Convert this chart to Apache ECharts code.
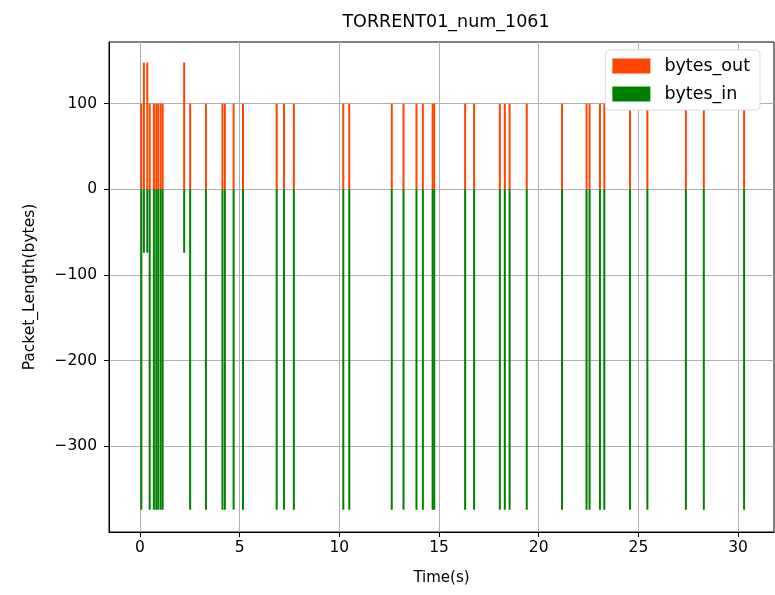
<!DOCTYPE html>
<html>
<head>
<meta charset="utf-8">
<script src="https://cdn.jsdelivr.net/npm/echarts@6/dist/echarts.min.js"></script>
<style>
  html, body { margin: 0; padding: 0; background: #fff; }
  #chart { width: 775px; height: 595px; }
</style>
</head>
<body>
<div id="chart"></div>
<script>
// packet times (s)
const times = [0.07, 0.20, 0.37, 0.49, 0.70, 0.82, 0.92, 1.04, 1.14, 2.22, 2.52, 3.31,
  4.14, 4.26, 4.70, 5.17, 6.86, 7.23, 7.72, 10.20, 10.50, 12.63, 13.22, 13.87, 14.19,
  14.68, 14.76, 16.31, 16.76, 18.05, 18.30, 18.54, 19.40, 21.17, 22.40, 22.55, 23.07,
  23.29, 24.58, 25.45, 27.38, 28.28, 30.30];
// outgoing lengths (positive)
const bytesOut = [100, 148, 148, 100, 100, 100, 100, 100, 100, 148, 100, 100,
  100, 100, 100, 100, 100, 100, 100, 100, 100, 100, 100, 100, 100,
  100, 100, 100, 100, 100, 100, 100, 100, 100, 100, 100, 100,
  100, 100, 100, 100, 100, 100];
// incoming lengths (negative)
const bytesIn = [-374, -74, -74, -374, -374, -374, -374, -374, -374, -74, -374, -374,
  -374, -374, -374, -374, -374, -374, -374, -374, -374, -374, -374, -374, -374,
  -374, -374, -374, -374, -374, -374, -374, -374, -374, -374, -374, -374,
  -374, -374, -374, -374, -374, -374];
const xTicks = [0, 5, 10, 15, 20, 25, 30];
const yTicks = [-300, -200, -100, 0, 100];

const font = 'DejaVu Sans';
const minus = v => String(v).replace('-', '\u2212');

const chart = echarts.init(document.getElementById('chart'));
chart.setOption({
  animation: false,
  textStyle: { fontFamily: font },
  title: {
    text: 'TORRENT01_num_1061',
    left: 441, top: 8, textAlign: 'center',
    textStyle: { fontFamily: font, fontSize: 17.5, fontWeight: 'normal', color: '#000' }
  },
  legend: {
    orient: 'vertical',
    right: 15, top: 50,
    icon: 'rect',
    itemWidth: 38, itemHeight: 15, itemGap: 10,
    padding: [7, 10, 7, 7],
    backgroundColor: '#fff',
    borderColor: '#dcdcdc', borderWidth: 1, borderRadius: 4,
    textStyle: { fontFamily: font, fontSize: 17.5, color: '#000', padding: [0, 0, 0, 9] },
    data: ['bytes_out', 'bytes_in']
  },
  grid: { left: 109, right: 1, top: 42, bottom: 63, show: true, borderColor: '#000', borderWidth: 1 },
  xAxis: {
    type: 'value', min: -1.55, max: 31.8,
    name: 'Time(s)', nameLocation: 'middle', nameGap: 39,
    nameTextStyle: { fontFamily: font, fontSize: 15, color: '#000' },
    axisLine: { show: true, onZero: false, lineStyle: { color: '#000' } },
    axisTick: { show: true, length: 5, customValues: xTicks, lineStyle: { color: '#000' } },
    axisLabel: { customValues: xTicks, fontFamily: font, fontSize: 15.5, color: '#000', margin: 8, formatter: minus },
    splitLine: { show: true, lineStyle: { color: '#b0b0b0', width: 1 } }
  },
  yAxis: {
    type: 'value', min: -400, max: 172,
    name: 'Packet_Length(bytes)', nameLocation: 'middle', nameGap: 71,
    nameTextStyle: { fontFamily: font, fontSize: 15.5, color: '#000' },
    axisLine: { show: true, onZero: false, lineStyle: { color: '#000' } },
    axisTick: { show: true, length: 5, customValues: yTicks, lineStyle: { color: '#000' } },
    axisLabel: { customValues: yTicks, fontFamily: font, fontSize: 15.5, color: '#000', margin: 12, formatter: minus },
    splitLine: { show: true, lineStyle: { color: '#b0b0b0', width: 1 } }
  },
  series: [
    {
      name: 'bytes_out', type: 'bar', barWidth: 2, barGap: '-100%',
      itemStyle: { color: '#ff4500' },
      data: times.map((t, i) => [t, bytesOut[i]])
    },
    {
      name: 'bytes_in', type: 'bar', barWidth: 2, barGap: '-100%',
      itemStyle: { color: '#008000' },
      data: times.map((t, i) => [t, bytesIn[i]])
    }
  ]
});
</script>
</body>
</html>
